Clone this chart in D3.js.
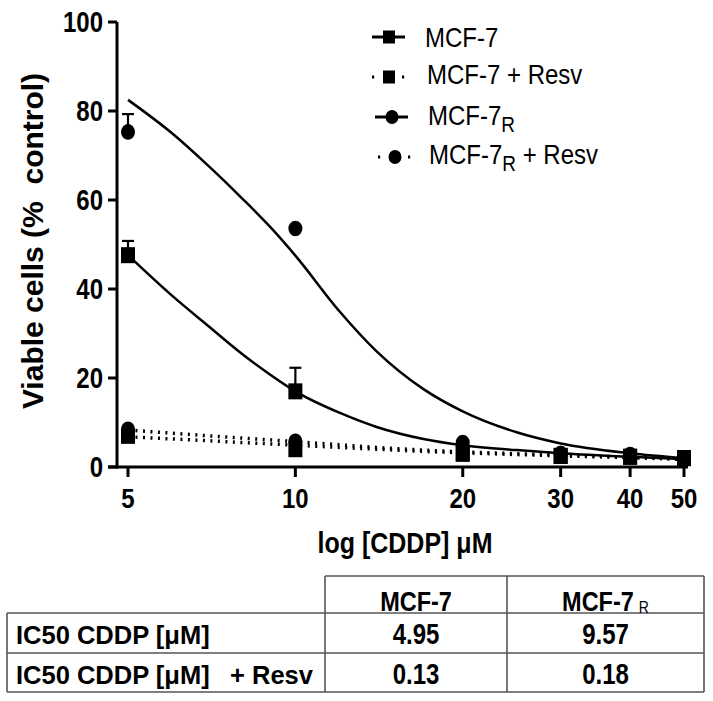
<!DOCTYPE html>
<html><head><meta charset="utf-8">
<script src="https://cdn.jsdelivr.net/npm/d3@7"></script>
<style>
html,body{margin:0;padding:0;background:#fff;}
svg{display:block;font-family:"Liberation Sans",Arial,sans-serif;}
</style></head>
<body>
<svg id="c" width="713" height="701"></svg>
<script>
// ---------- data ----------
const conc = [5, 10, 20, 30, 40, 50];
const mcf7 = [47.6, 17.0, 3.0, 2.5, 2.3, 2.0];
const mcf7Err = [3.2, 5.3, 0, 0, 0, 0];
const mcf7Resv = [7.0, 4.0, 3.0, 2.5, 2.3, 2.0];
const mcf7R = [75.3, 53.6, 5.5, 3.0, 2.8, 2.0];
const mcf7RErr = [4.0, 0, 0, 0, 0, 0];
const mcf7RResv = [8.5, 5.8, 4.5, 3.0, 2.5, 2.0];

// fitted curves
const fitConc = [5, 6, 7, 8, 9, 10, 12, 14, 17, 20, 25, 30, 40, 50];
const fitMcf7 = [47.6, 38.5, 31.5, 25.5, 20.8, 17.0, 12.2, 9.0, 6.3, 4.9, 3.8, 3.1, 2.3, 1.8];
const fitMcf7R = [82.5, 75.0, 67.5, 60.5, 54.0, 47.5, 35.0, 26.0, 17.5, 12.5, 7.8, 5.3, 3.1, 2.0];
const fitMcf7Resv = [6.8, 6.3, 5.9, 5.5, 5.2, 4.9, 4.4, 4.0, 3.5, 3.2, 2.8, 2.5, 2.1, 1.7];
const fitMcf7RResv = [8.3, 7.6, 7.0, 6.5, 6.1, 5.7, 5.0, 4.4, 3.8, 3.4, 3.0, 2.7, 2.2, 1.8];

const yTicks = [0, 20, 40, 60, 80, 100];
const xTicks = [5, 10, 20, 30, 40, 50];

const legendItems = [
  {name: "MCF-7", sub: "", tail: "", shape: "square", dotted: false},
  {name: "MCF-7 + Resv", sub: "", tail: "", shape: "square", dotted: true},
  {name: "MCF-7", sub: "R", tail: "", shape: "circle", dotted: false},
  {name: "MCF-7", sub: "R", tail: " + Resv", shape: "circle", dotted: true}
];

const tableCols = ["MCF-7", "MCF-7"];
const tableColSubs = ["", "R"];
const tableRows = ["IC50 CDDP [μM]", "IC50 CDDP [μM]"];
const tableRowTails = ["", "+ Resv"];
const ic50 = [["4.95", "9.57"], ["0.13", "0.18"]];

// ---------- drawing ----------
const svg = d3.select("#c");
svg.append("rect").attr("width", 713).attr("height", 701).attr("fill", "#fff");

const x = d3.scaleLog().domain([5, 50]).range([128, 684]);
const y = d3.scaleLinear().domain([0, 100]).range([467, 22]);

function txt(g, tx, ty, s, str, opts) {
  const t = g.append("text")
    .attr("transform", `translate(${tx},${ty}) scale(1,${s})`)
    .attr("font-size", opts.size)
    .attr("font-weight", opts.bold ? "bold" : "normal")
    .attr("text-anchor", opts.anchor || "start")
    .attr("fill", "#000")
    .text(str);
  return t;
}

// axes
const ax = svg.append("g");
ax.append("line").attr("x1", 117).attr("x2", 117).attr("y1", y(100)).attr("y2", y(0) + 1.5)
  .attr("stroke", "#000").attr("stroke-width", 3);
ax.append("line").attr("x1", 108).attr("x2", 688).attr("y1", y(0)).attr("y2", y(0))
  .attr("stroke", "#000").attr("stroke-width", 3);
yTicks.forEach(v => {
  ax.append("line").attr("x1", 108).attr("x2", 117).attr("y1", y(v)).attr("y2", y(v))
    .attr("stroke", "#000").attr("stroke-width", 3);
  txt(ax, 103, y(v) + 10, 1.2, v, {size: 24, bold: true, anchor: "end"});
});
xTicks.forEach(v => {
  ax.append("line").attr("x1", x(v)).attr("x2", x(v)).attr("y1", y(0)).attr("y2", y(0) + 10)
    .attr("stroke", "#000").attr("stroke-width", 3);
  txt(ax, x(v), 508, 1.18, v, {size: 24, bold: true, anchor: "middle"});
});
// axis titles
svg.append("text").attr("transform", "translate(43,241) rotate(-90)")
  .attr("font-size", 30).attr("font-weight", "bold").attr("text-anchor", "middle")
  .attr("xml:space", "preserve").text("Viable cells (%  control)");
txt(svg, 405, 553, 1.15, "log [CDDP] μM", {size: 25, bold: true, anchor: "middle"});

// curves
const line = d3.line().x(d => x(d[0])).y(d => y(d[1])).curve(d3.curveMonotoneX);
function curve(vals, dotted) {
  svg.append("path").attr("d", line(fitConc.map((c, i) => [c, vals[i]])))
    .attr("fill", "none").attr("stroke", "#000")
    .attr("stroke-width", dotted ? 3.5 : 2.5)
    .attr("stroke-dasharray", dotted ? "2,5.5" : null);
}
curve(fitMcf7Resv, true);
curve(fitMcf7RResv, true);
curve(fitMcf7, false);
curve(fitMcf7R, false);

// markers
function errBars(vals, errs) {
  vals.forEach((v, i) => {
    if (!errs[i]) return;
    const cx = x(conc[i]);
    svg.append("line").attr("x1", cx).attr("x2", cx).attr("y1", y(v)).attr("y2", y(v + errs[i]))
      .attr("stroke", "#000").attr("stroke-width", 2.2);
    svg.append("line").attr("x1", cx - 6).attr("x2", cx + 6).attr("y1", y(v + errs[i])).attr("y2", y(v + errs[i]))
      .attr("stroke", "#000").attr("stroke-width", 2.2);
  });
}
function squares(vals) {
  svg.append("g").selectAll("rect").data(vals).join("rect")
    .attr("x", (d, i) => x(conc[i]) - 7).attr("y", d => y(d) - 8)
    .attr("width", 14).attr("height", 16).attr("fill", "#000");
}
function circles(vals) {
  svg.append("g").selectAll("ellipse").data(vals).join("ellipse")
    .attr("cx", (d, i) => x(conc[i])).attr("cy", d => y(d))
    .attr("rx", 7).attr("ry", 7.8).attr("fill", "#000");
}
errBars(mcf7, mcf7Err);
errBars(mcf7R, mcf7RErr);
squares(mcf7Resv);
squares(mcf7);
circles(mcf7RResv);
circles(mcf7R);

// legend
const lg = svg.append("g");
const legY = [37, 77, 117, 157];
const legX = [389, 389, 392, 395];
const legTextX = [425, 427, 428, 429];
const legBase = [47, 84, 125, 164];
legendItems.forEach((it, i) => {
  const cx = legX[i], cy = legY[i];
  if (it.dotted) {
    [-16, 14].forEach(dx => lg.append("rect").attr("x", cx + dx - 1).attr("y", cy - 1.5)
      .attr("width", 2.2).attr("height", 3).attr("fill", "#000"));
  } else {
    lg.append("line").attr("x1", cx - 17).attr("x2", cx + 16).attr("y1", cy).attr("y2", cy)
      .attr("stroke", "#000").attr("stroke-width", 3);
  }
  if (it.shape === "square") {
    lg.append("rect").attr("x", cx - 6).attr("y", cy - 6.5).attr("width", 12).attr("height", 13).attr("fill", "#000");
  } else {
    lg.append("ellipse").attr("cx", cx).attr("cy", cy).attr("rx", 6.5).attr("ry", 7).attr("fill", "#000");
  }
  const t = txt(lg, legTextX[i], legBase[i], 1.17, "", {size: 24});
  t.append("tspan").text(it.name);
  if (it.sub) t.append("tspan").attr("font-size", 19).attr("dy", 6).text(it.sub);
  if (it.tail) t.append("tspan").attr("dy", -6).attr("xml:space", "preserve").text(it.tail);
});

// table
const tb = svg.append("g").attr("stroke", "#555").attr("stroke-width", 1.6);
const colX = [7, 325, 507, 704];
const rowY = [576, 613, 653, 692];
tb.append("line").attr("x1", colX[1]).attr("x2", colX[3]).attr("y1", rowY[0]).attr("y2", rowY[0]);
[1, 2, 3].forEach(r => tb.append("line").attr("x1", colX[0]).attr("x2", colX[3]).attr("y1", rowY[r]).attr("y2", rowY[r]));
tb.append("line").attr("x1", colX[0]).attr("x2", colX[0]).attr("y1", rowY[1]).attr("y2", rowY[3]);
[1, 2, 3].forEach(c => tb.append("line").attr("x1", colX[c]).attr("x2", colX[c]).attr("y1", rowY[0]).attr("y2", rowY[3]));

const tt = svg.append("g");
tableCols.forEach((c, j) => {
  const cxm = (colX[j + 1] + colX[j + 2]) / 2;
  const t = txt(tt, cxm, 611, 1.2, "", {size: 23.5, bold: true, anchor: "middle"});
  t.append("tspan").text(c);
  if (tableColSubs[j]) t.append("tspan").attr("font-size", 14).attr("font-weight", "normal").attr("dx", 5).attr("dy", 2).text(tableColSubs[j]);
});
tableRows.forEach((r, i) => {
  const base = [644, 684][i];
  const t = txt(tt, 16, base, 1.0, "", {size: 25.5, bold: true});
  t.append("tspan").text(r);
  if (tableRowTails[i]) t.append("tspan").attr("x", 214).text(tableRowTails[i]);
  ic50[i].forEach((v, j) => {
    const cxm = (colX[j + 1] + colX[j + 2]) / 2;
    txt(tt, cxm, base, 1.2, v, {size: 24, bold: true, anchor: "middle"});
  });
});
</script>
</body></html>
